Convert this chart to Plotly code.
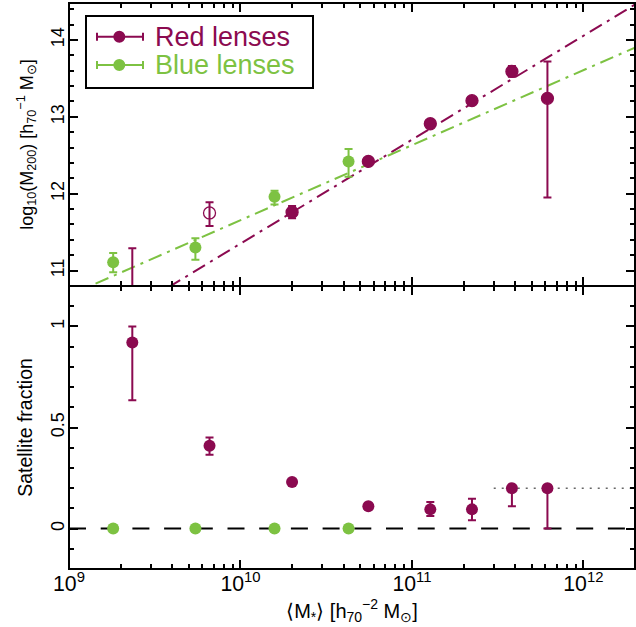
import plotly.graph_objects as go
from plotly.subplots import make_subplots

RED = "#8B0A50"
GREEN = "#7DC242"
FONT = "Liberation Sans"

# ---- data ----
red_mstar = [2.34e9, 6.6e9, 2.0e10, 5.57e10, 1.28e11, 2.24e11, 3.83e11, 6.17e11]
red_logm = [10.50, 11.75, 11.76, 12.42, 12.91, 13.21, 13.59, 13.24]
red_logm_errp = [0.79, 0.14, 0.08, 0.03, 0.03, 0.03, 0.07, 0.48]
red_logm_errm = [0.50, 0.17, 0.08, 0.03, 0.03, 0.03, 0.07, 1.29]
red_symbols = ["circle", "circle-open", "circle", "circle", "circle", "circle", "circle", "circle"]
red_fsat = [0.92, 0.41, 0.23, 0.11, 0.095, 0.095, 0.20, 0.20]
red_fsat_errp = [0.08, 0.04, 0.01, 0.01, 0.036, 0.053, 0.0, 0.0]
red_fsat_errm = [0.285, 0.045, 0.01, 0.01, 0.033, 0.054, 0.09, 0.20]

blue_mstar = [1.81e9, 5.46e9, 1.58e10, 4.27e10]
blue_logm = [11.11, 11.30, 11.96, 12.42]
blue_logm_errp = [0.12, 0.12, 0.08, 0.16]
blue_logm_errm = [0.13, 0.16, 0.10, 0.20]
blue_fsat = [0.0, 0.0, 0.0, 0.0]

fit_x = [1e9, 2e12]
red_fit_y = [10.0, 14.46]
blue_fit_y = [10.68, 13.90]

zero_x = [1e9, 2e12]
zero_y = [0.0, 0.0]
limit_x = [3e11, 2e12]
limit_y = [0.2, 0.2]

x_range_log = [9, 12.30103]
top_y_range = [10.8, 14.48]
bot_y_range = [-0.2, 1.2]

# ---- figure ----
fig = make_subplots(rows=2, cols=1, shared_xaxes=True, vertical_spacing=0)

fig.add_trace(go.Scatter(x=fit_x, y=red_fit_y, mode="lines",
                         line=dict(color=RED, width=2, dash="14px,6px,3px,6px"),
                         showlegend=False), row=1, col=1)
fig.add_trace(go.Scatter(x=fit_x, y=blue_fit_y, mode="lines",
                         line=dict(color=GREEN, width=2, dash="14px,6px,3px,6px"),
                         showlegend=False), row=1, col=1)

fig.add_trace(go.Scatter(x=red_mstar, y=red_logm, mode="markers",
                         marker=dict(color=RED, size=12, symbol=red_symbols,
                                     line=dict(color=RED, width=1.3)),
                         error_y=dict(type="data", symmetric=False, array=red_logm_errp,
                                      arrayminus=red_logm_errm, color=RED, thickness=2, width=4),
                         showlegend=False), row=1, col=1)
fig.add_trace(go.Scatter(x=blue_mstar, y=blue_logm, mode="markers",
                         marker=dict(color=GREEN, size=12),
                         error_y=dict(type="data", symmetric=False, array=blue_logm_errp,
                                      arrayminus=blue_logm_errm, color=GREEN, thickness=2, width=4),
                         showlegend=False), row=1, col=1)

fig.add_trace(go.Scatter(x=zero_x, y=zero_y, mode="lines",
                         line=dict(color="black", width=2, dash="17px,14.7px"),
                         showlegend=False), row=2, col=1)
fig.add_trace(go.Scatter(x=limit_x, y=limit_y, mode="lines",
                         line=dict(color="#666666", width=1.5, dash="2px,6px"),
                         showlegend=False), row=2, col=1)
fig.add_trace(go.Scatter(x=red_mstar, y=red_fsat, mode="markers",
                         marker=dict(color=RED, size=12),
                         error_y=dict(type="data", symmetric=False, array=red_fsat_errp,
                                      arrayminus=red_fsat_errm, color=RED, thickness=2, width=4),
                         showlegend=False), row=2, col=1)
fig.add_trace(go.Scatter(x=blue_mstar, y=blue_fsat, mode="markers",
                         marker=dict(color=GREEN, size=12),
                         showlegend=False), row=2, col=1)

axis_common = dict(showline=False, mirror="allticks",
                   ticks="inside", ticklen=9, tickwidth=2, tickcolor="black",
                   showgrid=False, zeroline=False)

xaxis_common = dict(axis_common, type="log", range=x_range_log, dtick=1,
                    exponentformat="power",
                    tickfont=dict(family=FONT, size=17, color="black"),
                    minor=dict(ticks="inside", ticklen=5, tickwidth=2, tickcolor="black",
                               dtick="D1", showgrid=False))

yfont = dict(family=FONT, size=18, color="black")

fig.update_xaxes(**xaxis_common, showticklabels=False, row=1, col=1)
fig.update_xaxes(**xaxis_common, showticklabels=True, row=2, col=1,
                 title=dict(text="⟨M<sub>*</sub>⟩ [h<sub>70</sub><sup>−2</sup> M<sub>⊙</sub>]",
                            font=dict(family=FONT, size=20, color="black"), standoff=4))

fig.update_yaxes(**axis_common, tickfont=yfont, range=top_y_range, dtick=1, tickangle=-90,
                 minor=dict(ticks="inside", ticklen=5, tickwidth=2, tickcolor="black",
                            dtick=0.2, showgrid=False),
                 title=dict(text="log<sub>10</sub>(M<sub>200</sub>) [h<sub>70</sub><sup>−1</sup> M<sub>⊙</sub>]",
                            font=dict(family=FONT, size=18, color="black"), standoff=10),
                 row=1, col=1)
fig.update_yaxes(**axis_common, tickfont=yfont, range=bot_y_range, tickvals=[0, 0.5, 1],
                 ticktext=["0", "0.5", "1"], tickangle=-90,
                 minor=dict(ticks="inside", ticklen=5, tickwidth=2, tickcolor="black",
                            dtick=0.1, tick0=0, showgrid=False),
                 title=dict(text="Satellite fraction",
                            font=dict(family=FONT, size=19.5, color="black"), standoff=10),
                 row=2, col=1)

# ---- panel frames ----
shapes = []
for xr, yr in (("x", "y"), ("x2", "y2")):
    shapes.append(dict(type="rect", xref=f"{xr} domain", yref=f"{yr} domain",
                       x0=0, x1=1, y0=0, y1=1, line=dict(color="black", width=2),
                       layer="above"))

# ---- custom legend (box, error-bar symbols, labels) ----
L, T, W, H = 69, 3, 566, 566
def px(xp):
    return (xp - L) / W
def py(yp):
    return (T + H - yp) / H

shapes.append(dict(type="rect", xref="paper", yref="paper", x0=px(86), x1=px(313),
                   y0=py(88), y1=py(16), line=dict(color="black", width=2),
                   fillcolor="white", layer="above"))
legend_items = [("Red lenses", RED, 36.7), ("Blue lenses", GREEN, 65.0)]
for label, col, yy in legend_items:
    shapes.append(dict(type="line", xref="paper", yref="paper", x0=px(97), x1=px(143),
                       y0=py(yy), y1=py(yy), line=dict(color=col, width=2), layer="above"))
    for xc in (97, 143):
        shapes.append(dict(type="line", xref="paper", yref="paper", x0=px(xc), x1=px(xc),
                           y0=py(yy - 4), y1=py(yy + 4), line=dict(color=col, width=2), layer="above"))
    shapes.append(dict(type="circle", xref="paper", yref="paper",
                       x0=px(119.3 - 6), x1=px(119.3 + 6), y0=py(yy + 6), y1=py(yy - 6),
                       fillcolor=col, line=dict(color=col, width=0), layer="above"))
    fig.add_annotation(xref="paper", yref="paper", x=px(153), y=py(yy), text=label,
                       showarrow=False, xanchor="left", yanchor="middle",
                       font=dict(family=FONT, size=27, color=col))
fig.update_layout(shapes=shapes)

fig.update_layout(width=636, height=627, margin=dict(l=69, r=1, t=3, b=58),
                  plot_bgcolor="white", paper_bgcolor="white",
                  font=dict(family=FONT, color="black"))

fig.write_html("out.html", config={"displayModeBar": False},
               post_script="document.body.style.margin='0px';")
